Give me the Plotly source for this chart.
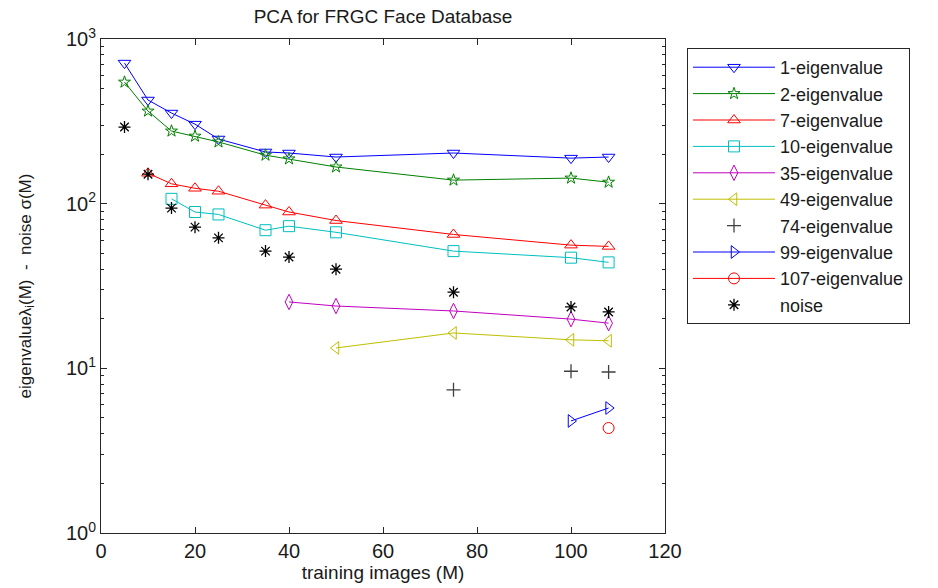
import plotly.graph_objects as go

# ---- data ----
x_e1 = [5, 10, 15, 20, 25, 35, 40, 50, 75, 100, 108]
y_e1 = [714, 426, 355, 304, 247, 206, 203, 192, 203, 189, 192]

x_e2 = [5, 10, 15, 20, 25, 35, 40, 50, 75, 100, 108]
y_e2 = [547, 365, 276, 257, 237, 197, 187, 167, 139, 143, 135]

x_e7 = [10, 15, 20, 25, 35, 40, 50, 75, 100, 108]
y_e7 = [153, 132, 124, 119, 98, 89, 79, 65, 56, 55]

x_e10 = [15, 20, 25, 35, 40, 50, 75, 100, 108]
y_e10 = [107, 89, 86, 69, 73, 67, 51.5, 47, 44]

x_e35 = [40, 50, 75, 100, 108]
y_e35 = [25.3, 23.9, 22.3, 19.9, 18.8]

x_e49 = [50, 75, 100, 108]
y_e49 = [13.3, 16.4, 14.9, 14.7]

x_e74 = [75, 100, 108]
y_e74 = [7.4, 9.6, 9.5]

x_e99 = [100, 108]
y_e99 = [4.79, 5.74]

x_e107 = [108]
y_e107 = [4.34]

x_noise = [5, 10, 15, 20, 25, 35, 40, 50, 75, 100, 108]
y_noise = [292, 151, 94, 72, 62, 51.5, 47.4, 40, 29, 23.6, 22]

x_ticks = [0, 20, 40, 60, 80, 100, 120]
y_major = [1, 10, 100, 1000]
y_major_text = ["10<sup>0</sup>", "10<sup>1</sup>", "10<sup>2</sup>", "10<sup>3</sup>"]
y_minor = [k * 10 ** d for d in range(3) for k in range(2, 10)]

series = [
    ("1-eigenvalue", x_e1, y_e1, "#0000FF", "triangle-down-open", "lines+markers"),
    ("2-eigenvalue", x_e2, y_e2, "#008000", "star-open", "lines+markers"),
    ("7-eigenvalue", x_e7, y_e7, "#FF0000", "triangle-up-open", "lines+markers"),
    ("10-eigenvalue", x_e10, y_e10, "#00BFBF", "square-open", "lines+markers"),
    ("35-eigenvalue", x_e35, y_e35, "#BF00BF", "diamond-tall-open", "lines+markers"),
    ("49-eigenvalue", x_e49, y_e49, "#BFBF00", "triangle-left-open", "lines+markers"),
    ("74-eigenvalue", x_e74, y_e74, "#404040", "cross-thin-open", "markers"),
    ("99-eigenvalue", x_e99, y_e99, "#0000FF", "triangle-right-open", "lines+markers"),
    ("107-eigenvalue", x_e107, y_e107, "#FF0000", "circle-open", "lines+markers"),
    ("noise", x_noise, y_noise, "#000000", "asterisk-open", "markers"),
]

FONT = "Liberation Sans, Arial, sans-serif"

fig = go.Figure()
for name, xs, ys, col, sym, mode in series:
    size = 11
    lw = 1
    if sym in ("cross-thin-open", "asterisk-open"):
        size = 10
        lw = 1.3
    if sym == "star-open":
        size = 9
    fig.add_trace(go.Scatter(
        x=xs, y=ys, name=name, mode=mode,
        line=dict(color=col, width=1),
        marker=dict(symbol=sym, size=size, color=col, line=dict(color=col, width=lw)),
    ))

axis_common = dict(
    showline=True, linecolor="#262626", linewidth=1, mirror="ticks",
    ticks="inside", ticklen=6, tickcolor="#262626", showgrid=False, zeroline=False,
    automargin=False,
    tickfont=dict(family=FONT, size=20, color="#1a1a1a"),
)

fig.update_layout(
    width=938, height=588,
    margin=dict(l=101, r=273, t=39, b=55),
    paper_bgcolor="white", plot_bgcolor="white",
    title=dict(text="PCA for FRGC Face Database", x=(101 + 665) / 2 / 938, xanchor="center",
               y=1 - 16 / 588, yanchor="middle",
               font=dict(family=FONT, size=19, color="#1a1a1a")),
    xaxis=dict(range=[0, 120], tickmode="array", tickvals=x_ticks,
               title=dict(text="training images (M)", standoff=4,
                          font=dict(family=FONT, size=19, color="#1a1a1a")),
               **axis_common),
    yaxis=dict(type="log", range=[0, 3], tickmode="array", tickvals=y_major, ticktext=y_major_text,
               minor=dict(tickmode="array", tickvals=y_minor, ticks="inside", ticklen=3,
                          tickcolor="#262626"),
               title=dict(text="eigenvalueλ<sub>i</sub>(M)  -  noise σ(M)", standoff=30,
                          font=dict(family=FONT, size=17, color="#1a1a1a")),
               **axis_common),
    legend=dict(x=(687 - 101) / 564, y=(533 - 48) / 494, xanchor="left", yanchor="top",
                bordercolor="#262626", borderwidth=1, bgcolor="white",
                font=dict(family=FONT, size=18, color="#1a1a1a"),
                tracegroupgap=0, itemwidth=82),
    showlegend=True,
)

fig.write_html("out.html")
